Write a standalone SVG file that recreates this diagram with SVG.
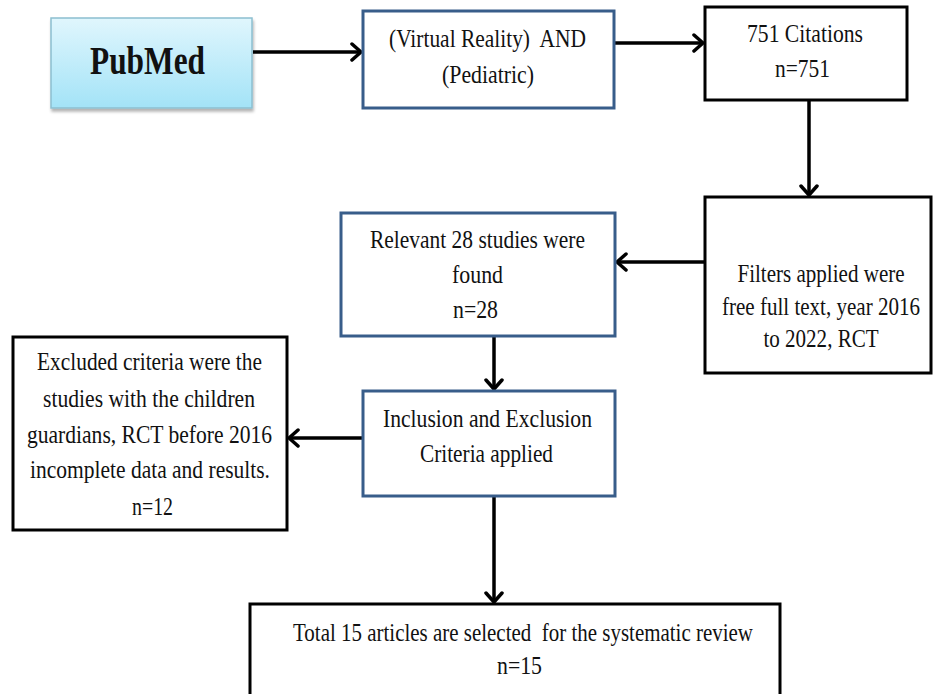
<svg xmlns="http://www.w3.org/2000/svg" width="934" height="694" viewBox="0 0 934 694">
<defs>
<linearGradient id="pg" x1="0" y1="0" x2="0" y2="1">
<stop offset="0" stop-color="#e0f6fd"/>
<stop offset="1" stop-color="#a3e3f7"/>
</linearGradient>
<filter id="sh" x="-10%" y="-10%" width="130%" height="140%">
<feGaussianBlur in="SourceAlpha" stdDeviation="1.5"/>
<feOffset dx="1" dy="3" result="b"/>
<feComponentTransfer><feFuncA type="linear" slope="0.3"/></feComponentTransfer>
<feMerge><feMergeNode/><feMergeNode in="SourceGraphic"/></feMerge>
</filter>
<marker id="ah" markerUnits="userSpaceOnUse" markerWidth="16" markerHeight="20" refX="13" refY="10" orient="auto">
<path d="M4,2 L13,10 L4,18" fill="none" stroke="#000" stroke-width="3.5" stroke-linecap="round" stroke-linejoin="round"/>
</marker>
<style>
.t{font-family:"Liberation Serif","Times New Roman",serif;font-size:26px;fill:#111;white-space:pre}
.m{text-anchor:middle}
.b{fill:#fff;stroke:#385d8a;stroke-width:3}
.k{fill:#fff;stroke:#000;stroke-width:3}
.c{fill:none;stroke:#000;stroke-width:3.5}
</style>
</defs>
<rect width="934" height="694" fill="#fff"/>
<g id="connectors">
<line class="c" x1="253" y1="52" x2="361" y2="52" marker-end="url(#ah)"/>
<line class="c" x1="615" y1="43" x2="703" y2="43" marker-end="url(#ah)"/>
<line class="c" x1="809" y1="101" x2="809" y2="195" marker-end="url(#ah)"/>
<line class="c" x1="704" y1="262" x2="617" y2="262" marker-end="url(#ah)"/>
<line class="c" x1="494" y1="337" x2="494" y2="389" marker-end="url(#ah)"/>
<line class="c" x1="362" y1="438" x2="289" y2="438" marker-end="url(#ah)"/>
<line class="c" x1="494" y1="497" x2="494" y2="602" marker-end="url(#ah)"/>
</g>
<g id="pubmed">
<rect x="51" y="18" width="201" height="90" fill="url(#pg)" stroke="#8cbfd0" stroke-width="1.5" filter="url(#sh)"/>
<text class="t" x="90" y="74" style="font-size:40px;font-weight:bold" textLength="115" lengthAdjust="spacingAndGlyphs">PubMed</text>
</g>
<g id="query">
<rect class="b" x="363" y="11" width="251" height="97"/>
<text class="t" x="389" y="47" textLength="197" lengthAdjust="spacingAndGlyphs">(Virtual Reality)&#160; AND</text>
<text class="t" x="442" y="83" textLength="92" lengthAdjust="spacingAndGlyphs">(Pediatric)</text>
</g>
<g id="citations">
<rect class="k" x="705" y="7" width="202" height="93"/>
<text class="t" x="747" y="42" textLength="116" lengthAdjust="spacingAndGlyphs">751 Citations</text>
<text class="t" x="775" y="77" textLength="55" lengthAdjust="spacingAndGlyphs">n=751</text>
</g>
<g id="filters">
<rect class="k" x="705" y="197" width="226" height="176"/>
<g transform="translate(821,0) scale(0.81,1)">
<text class="t m" x="0" y="282">Filters applied were</text>
<text class="t m" x="0" y="315">free full text, year 2016</text>
<text class="t m" x="0" y="347">to 2022, RCT</text>
</g>
</g>
<g id="relevant">
<rect class="b" x="341" y="213" width="274" height="123"/>
<text class="t" x="370" y="248" textLength="215" lengthAdjust="spacingAndGlyphs">Relevant 28 studies were</text>
<text class="t" x="452" y="283" textLength="51" lengthAdjust="spacingAndGlyphs">found</text>
<text class="t" x="453" y="318" textLength="45" lengthAdjust="spacingAndGlyphs">n=28</text>
</g>
<g id="inclusion">
<rect class="b" x="363" y="391" width="252" height="105"/>
<text class="t" x="383" y="427" textLength="209" lengthAdjust="spacingAndGlyphs">Inclusion and Exclusion</text>
<text class="t" x="420" y="462" textLength="133" lengthAdjust="spacingAndGlyphs">Criteria applied</text>
</g>
<g id="excluded">
<rect class="k" x="13" y="337" width="274" height="193"/>
<text class="t" x="37" y="370" textLength="225" lengthAdjust="spacingAndGlyphs">Excluded criteria were the</text>
<text class="t" x="43" y="407" textLength="212" lengthAdjust="spacingAndGlyphs">studies with the children</text>
<text class="t" x="27" y="443" textLength="245" lengthAdjust="spacingAndGlyphs">guardians, RCT before 2016</text>
<text class="t" x="30" y="478" textLength="240" lengthAdjust="spacingAndGlyphs">incomplete data and results.</text>
<text class="t" x="132" y="515" textLength="41" lengthAdjust="spacingAndGlyphs">n=12</text>
</g>
<g id="total">
<rect class="k" x="250" y="604" width="530" height="100"/>
<text class="t" x="293" y="641" textLength="460" lengthAdjust="spacingAndGlyphs">Total 15 articles are selected&#160; for the systematic review</text>
<text class="t" x="497" y="674" textLength="45" lengthAdjust="spacingAndGlyphs">n=15</text>
</g>
</svg>
